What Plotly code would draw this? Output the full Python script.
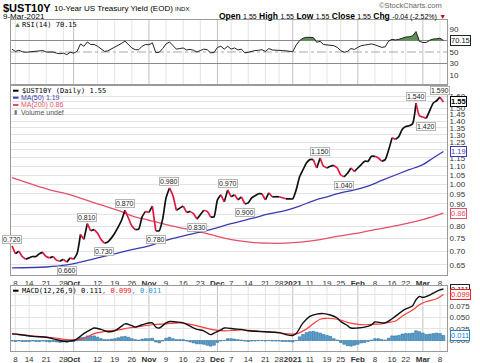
import math
import pandas as pd
import plotly.graph_objects as go

# ---------------- data ----------------
holidays = ["2020-09-07", "2020-11-26", "2020-12-25", "2021-01-01", "2021-01-18", "2021-02-15"]
dates = [d.strftime("%Y-%m-%d") for d in pd.bdate_range("2020-09-04", "2021-03-09")
         if d.strftime("%Y-%m-%d") not in holidays]

price = [0.72, 0.69, 0.70, 0.68, 0.67, 0.675, 0.68, 0.68, 0.69, 0.695,
         0.68, 0.675, 0.68, 0.667, 0.663, 0.67, 0.66, 0.675, 0.67, 0.69,
         0.765, 0.745, 0.81, 0.78, 0.785, 0.77, 0.745, 0.73, 0.735, 0.75,
         0.77, 0.795, 0.825, 0.87, 0.835, 0.80, 0.785, 0.787, 0.84, 0.865,
         0.86, 0.89, 0.78, 0.78, 0.83, 0.93, 0.98, 0.94, 0.87, 0.88,
         0.89, 0.86, 0.865, 0.855, 0.83, 0.85, 0.87, 0.865, 0.84, 0.84,
         0.92, 0.945, 0.91, 0.97, 0.935, 0.945, 0.92, 0.935, 0.90, 0.905,
         0.93, 0.94, 0.95, 0.95, 0.92, 0.955, 0.935, 0.935, 0.935, 0.93,
         0.925, 0.925, 0.925, 0.97, 1.04, 1.08, 1.12, 1.14, 1.14, 1.09,
         1.15, 1.10, 1.09, 1.10, 1.105, 1.09, 1.05, 1.04, 1.06, 1.09,
         1.07, 1.09, 1.11, 1.13, 1.13, 1.16, 1.16, 1.15, 1.13, 1.14,
         1.20, 1.28, 1.27, 1.29, 1.34, 1.36, 1.365, 1.38, 1.54, 1.44,
         1.43, 1.42, 1.48, 1.54, 1.56, 1.59, 1.55]

rsi = [55, 51, 53, 50.5, 49.5, 50, 50.5, 51, 52, 52.5,
       50, 49.5, 50, 48, 47, 48, 45.5, 49.5, 48, 51,
       64, 60, 67.5, 63, 63, 60, 55, 51, 52, 55,
       58, 62, 65, 69, 63, 57, 54, 54, 60, 63,
       62.5, 66, 49, 49.5, 56, 64, 67.5, 62, 55, 56,
       57, 53.5, 54.5, 53, 50, 52.5, 55, 54, 48.5, 49,
       58, 60, 55, 60, 55, 57, 53.5, 55, 48.5, 49.5,
       51.5, 52.5, 53, 54, 51, 56, 53.5, 53.5, 53, 52.5,
       52, 51, 50.5, 62, 70, 74, 75.5, 75.5, 75, 67,
       68.5, 63, 62, 62, 61, 58, 52.5, 49.5, 51, 56,
       54.5, 58, 61, 62, 63, 64, 62.5, 60, 58, 59,
       69, 72, 71, 72, 74, 76, 76.5, 78, 85.5, 68.5,
       66.5, 66.5, 70.5, 72.5, 73, 74, 70.15]

hist = [-0.001, -0.002, -0.001, -0.002, -0.002, -0.002, -0.001, -0.002, -0.002, -0.001,
        -0.002, -0.003, -0.002, -0.003, -0.004, -0.003, -0.004, -0.002, -0.002, 0.001,
        0.007, 0.007, 0.010, 0.010, 0.010, 0.007, 0.004, 0.002, 0.002, 0.003,
        0.004, 0.006, 0.008, 0.009, 0.007, 0.004, 0.002, 0.001, 0.003, 0.004,
        0.004, 0.005, -0.003, -0.005, -0.001, 0.005, 0.007, 0.004, 0.002, 0.002,
        0.002, -0.001, -0.003, -0.005, -0.007, -0.007, -0.008, -0.010, -0.012, -0.010,
        -0.004, -0.001, 0.000, 0.004, 0.004, 0.003, 0.002, 0.001, -0.001, -0.002,
        -0.001, -0.001, 0.000, 0.000, -0.001, 0.000, -0.001, -0.001, -0.001, -0.002,
        -0.002, -0.002, -0.003, 0.000, 0.008, 0.013, 0.017, 0.019, 0.020, 0.018,
        0.016, 0.013, 0.011, 0.009, 0.004, 0.001, -0.004, -0.008, -0.011, -0.012,
        -0.010, -0.008, -0.005, -0.004, -0.002, 0.001, 0.004, 0.004, 0.002, 0.001,
        0.005, 0.010, 0.010, 0.011, 0.014, 0.015, 0.015, 0.016, 0.021, 0.019,
        0.016, 0.013, 0.014, 0.015, 0.016, 0.015, 0.011]

macd_pos = [0, 2, 6, 10, 13, 15, 18, 19, 21, 23, 24, 26, 28, 30, 32, 33, 35, 36, 38, 41,
            42, 43, 45, 46, 48, 50, 52, 54, 56, 58, 59, 61, 62, 65, 67, 69, 71, 74, 76, 78,
            80, 82, 83, 85, 87, 89, 91, 93, 95, 96, 98, 99, 101, 103, 105, 106, 108, 109, 111, 113,
            115, 116, 117, 118, 119, 120, 122, 123, 125, 126]
macd_val = [0.0143, 0.013, 0.009, 0.007, 0.002, -0.0014, 0.0, 0.0036, 0.015, 0.0235,
            0.027, 0.024, 0.019, 0.021, 0.031, 0.036, 0.032, 0.029, 0.034, 0.038,
            0.029, 0.027, 0.038, 0.041, 0.040, 0.038, 0.031, 0.024, 0.021, 0.0128,
            0.016, 0.023, 0.027, 0.025, 0.024, 0.021, 0.020, 0.019, 0.018, 0.017,
            0.0128, 0.011, 0.015, 0.038, 0.052, 0.057, 0.058, 0.055, 0.0485, 0.041,
            0.032, 0.027, 0.027, 0.029, 0.034, 0.040, 0.038, 0.038, 0.047, 0.058,
            0.068, 0.071, 0.075, 0.088, 0.095, 0.093, 0.098, 0.102, 0.109, 0.111]

signal_pos = [0, 6, 12, 16, 19, 21, 24, 28, 31, 34, 37, 41, 45, 49, 52, 55, 59, 62, 65, 67,
              72, 76, 81, 83, 86, 88, 90, 92, 94, 96, 98, 100, 103, 105, 108, 109, 112, 114, 117, 119,
              121, 124, 126]
signal_val = [0.0143, 0.010, 0.006, 0.002, 0.002, 0.0045, 0.015, 0.021, 0.023, 0.027,
              0.030, 0.034, 0.036, 0.038, 0.035, 0.030, 0.023, 0.021, 0.022, 0.023,
              0.020, 0.018, 0.0143, 0.0143, 0.025, 0.036, 0.046, 0.048, 0.047, 0.044,
              0.039, 0.036, 0.034, 0.035, 0.036, 0.038, 0.042, 0.053, 0.066, 0.077,
              0.084, 0.090, 0.099]

ma50_pos = [0, 10, 16, 20, 25, 30, 35, 40, 46, 52, 58, 64, 70, 75, 80, 84, 88, 92, 96, 100,
            104, 108, 112, 116, 120, 123, 126]
ma50_val = [0.64, 0.643, 0.65, 0.66, 0.675, 0.69, 0.705, 0.72, 0.745, 0.765,
            0.785, 0.81, 0.833, 0.853, 0.87, 0.89, 0.915, 0.935, 0.955, 0.97,
            0.99, 1.02, 1.05, 1.08, 1.11, 1.15, 1.19]

ma200_pos = [0, 11, 16, 26, 31, 35, 40, 45, 50, 55, 60, 65, 70, 75, 80, 85, 90, 95, 100, 105,
             110, 115, 120, 126]
ma200_val = [1.035, 0.97, 0.95, 0.895, 0.87, 0.845, 0.825, 0.806, 0.79, 0.775,
             0.757, 0.742, 0.733, 0.73, 0.73, 0.735, 0.744, 0.757, 0.768, 0.782,
             0.795, 0.81, 0.828, 0.857]

swing_pos = [0, 16, 22, 27, 33, 42, 46, 54, 63, 68, 90, 97, 118, 121, 125]
swing_kind = ["H", "L", "H", "L", "H", "L", "H", "L", "H", "L", "H", "L", "H", "L", "H"]

tick_dates = ["2020-09-08", "2020-09-14", "2020-09-21", "2020-09-28", "2020-10-01", "2020-10-12",
              "2020-10-19", "2020-10-26", "2020-11-02", "2020-11-09", "2020-11-16", "2020-11-23",
              "2020-12-01", "2020-12-07", "2020-12-14", "2020-12-21", "2020-12-28", "2021-01-04",
              "2021-01-11", "2021-01-19", "2021-01-25", "2021-02-01", "2021-02-08", "2021-02-16",
              "2021-02-22", "2021-03-01", "2021-03-08"]
tick_text = ["8", "14", "21", "28", "<b>Oct</b>", "12", "19", "26", "<b>Nov</b>", "9", "16", "23",
             "<b>Dec</b>", "7", "14", "21", "28", "<b>2021</b>", "11", "19", "25", "<b>Feb</b>",
             "8", "16", "22", "<b>Mar</b>", "8"]
month_dates = ["2020-10-01", "2020-11-02", "2020-12-01", "2021-01-04", "2021-02-01", "2021-03-01"]

price_ticks = [0.65, 0.70, 0.75, 0.80, 0.85, 0.90, 0.95, 1.00, 1.05, 1.10, 1.15, 1.20,
               1.25, 1.30, 1.35, 1.40, 1.45, 1.50, 1.55, 1.60]
price_hidden = [0.85, 1.20, 1.55]
rsi_ticks = [10, 30, 50, 70, 90]
macd_ticks = [0.0, 0.025, 0.05, 0.075, 0.1]

N = len(dates)
assert N == len(price) == len(rsi) == len(hist)

RED = "#e0173f"
BLUE_MA = "#3b3bb0"
RED_MA = "#e4506a"
FONT = "Liberation Sans"

fig = go.Figure()

# ---------------- RSI panel ----------------
fig.add_trace(go.Scatter(x=dates, y=[70] * N, mode="lines", line=dict(width=0),
                         xaxis="x", yaxis="y", hoverinfo="skip", showlegend=False))
fig.add_trace(go.Scatter(x=dates, y=[max(v, 70) for v in rsi], mode="lines", line=dict(width=0),
                         fill="tonexty", fillcolor="rgba(86,136,76,0.95)",
                         xaxis="x", yaxis="y", hoverinfo="skip", showlegend=False))
fig.add_trace(go.Scatter(x=dates, y=rsi, mode="lines", line=dict(color="#222", width=1),
                         xaxis="x", yaxis="y", showlegend=False))

# ---------------- price panel ----------------
fig.add_trace(go.Scatter(x=[dates[i] for i in ma200_pos], y=ma200_val, mode="lines",
                         line=dict(color=RED_MA, width=1.3, shape="spline"),
                         xaxis="x2", yaxis="y2", showlegend=False))
fig.add_trace(go.Scatter(x=[dates[i] for i in ma50_pos], y=ma50_val, mode="lines",
                         line=dict(color=BLUE_MA, width=1.3, shape="spline"),
                         xaxis="x2", yaxis="y2", showlegend=False))


def runs(values, up):
    xs, ys = [], []
    i = 1
    n = len(values)
    while i < n:
        if (values[i] >= values[i - 1]) == up:
            start = i - 1
            while i < n and (values[i] >= values[i - 1]) == up:
                i += 1
            xs += dates[start:i] + [None]
            ys += values[start:i] + [None]
        else:
            i += 1
    return xs, ys


for up, col in [(True, "#111"), (False, RED)]:
    xs, ys = runs(price, up)
    fig.add_trace(go.Scatter(x=xs, y=ys, mode="lines",
                             line=dict(color=col, width=1.7, shape="spline", smoothing=0.6),
                             connectgaps=False, xaxis="x2", yaxis="y2", showlegend=False))

# ---------------- MACD panel ----------------
fig.add_trace(go.Bar(x=dates, y=hist, marker=dict(color="#58a0cf", line=dict(color="#2c6c9c", width=0.6)),
                     width=0.78, xaxis="x3", yaxis="y3", showlegend=False))
fig.add_trace(go.Scatter(x=[dates[i] for i in signal_pos], y=signal_val, mode="lines",
                         line=dict(color="#ff3b3b", width=1.2, shape="spline"),
                         xaxis="x3", yaxis="y3", showlegend=False))
fig.add_trace(go.Scatter(x=[dates[i] for i in macd_pos], y=macd_val, mode="lines",
                         line=dict(color="#111", width=1.4, shape="spline"),
                         xaxis="x3", yaxis="y3", showlegend=False))

# ---------------- layout ----------------
TOP, BOT = 20, 351
H = BOT - TOP
L, R = 11, 447
W = R - L
XR = [-0.29, 127.05]


def py(Y):
    return (BOT - Y) / H


def px(X):
    return (X - L) / W


tickfont = dict(family=FONT, size=8, color="#333")
common_x = dict(type="category", categoryorder="array", categoryarray=dates,
                range=XR, tickmode="array", tickvals=tick_dates, ticktext=tick_text,
                tickangle=0, showgrid=False, showline=True, linecolor="#9a9a9a",
                linewidth=1, mirror=True, zeroline=False, ticks="", ticklen=0,
                tickfont=tickfont, fixedrange=True)
common_y = dict(side="right", showline=True, linecolor="#9a9a9a", linewidth=1, mirror=True,
                zeroline=False, ticks="", ticklen=0, tickfont=tickfont, showgrid=True,
                gridcolor="#e4e4e4", fixedrange=True)

fig.update_layout(
    width=480, height=363,
    margin=dict(l=L, r=480 - R, t=TOP, b=363 - BOT, autoexpand=False),
    paper_bgcolor="white", plot_bgcolor="white",
    showlegend=False, bargap=0.2, hovermode=False,
    xaxis=dict(common_x, anchor="y", showticklabels=False),
    xaxis2=dict(common_x, anchor="y2", matches="x", showticklabels=True),
    xaxis3=dict(common_x, anchor="y3", matches="x", showticklabels=True),
    yaxis=dict(common_y, domain=[py(85), 1.0], range=[-7.4, 105.65], anchor="x",
               tickvals=rsi_ticks, ticktext=["" if v == 70 else str(v) for v in rsi_ticks],
               showgrid=False),
    yaxis2=dict(common_y, domain=[py(275), py(85)], type="log", range=[-0.2103, 0.2296], anchor="x2",
                tickvals=price_ticks,
                ticktext=["" if v in price_hidden else f"{v:.2f}" for v in price_ticks]),
    yaxis3=dict(common_y, domain=[0.0, py(286)], range=[-0.0225, 0.1175], anchor="x3",
                tickvals=macd_ticks,
                ticktext=["" if v == 0.1 else f"{v:.3f}" for v in macd_ticks]),
)

shapes = []
# vertical gridlines (weekly light, monthly darker), drawn below the traces
panels = [("x", "y", -7.4, 105.65),
          ("x2", "y2", -0.2103, 0.2296),
          ("x3", "y3", -0.0225, 0.1175)]
for d in tick_dates:
    col = "#c2c2c2" if d in month_dates else "#e4e4e4"
    for xr, yr, y0, y1 in panels:
        shapes.append(dict(type="line", xref=xr, yref=yr, x0=d, x1=d, y0=y0, y1=y1,
                           line=dict(color=col, width=1), layer="below"))
# RSI reference lines
for lvl, col, dash in [(70, "#8a8a8a", "solid"), (30, "#8a8a8a", "solid"), (50, "#a8a8a8", "dashdot")]:
    shapes.append(dict(type="line", xref="x", yref="y", x0=XR[0], x1=XR[1], y0=lvl, y1=lvl,
                       line=dict(color=col, width=1, dash=dash), layer="below"))
# legend swatches
for Y, col in [(90.7, "#000"), (97.7, BLUE_MA), (105, RED_MA), (290.7, "#000")]:
    shapes.append(dict(type="line", xref="paper", yref="paper", x0=px(13), x1=px(18.5),
                       y0=py(Y), y1=py(Y), line=dict(color=col, width=2)))
fig.update_layout(shapes=shapes)

ann = []


def text(X, Y, t, size=8, color="#000", family=FONT, anchor="left"):
    ann.append(dict(x=px(X), y=py(Y), xref="paper", yref="paper", xanchor=anchor, yanchor="middle",
                    text=t, showarrow=False, font=dict(family=family, size=size, color=color)))


# header
text(0.5, 7.5, "<b>$UST10Y</b>", size=11)
text(52, 8.5, "10-Year US Treasury Yield (EOD) <span style='font-size:6px'>INDX</span>", size=8)
text(0.5, 16, "9-Mar-2021", size=8)
text(444, 5.5, "©StockCharts.com", size=7.5, color="#666", anchor="right")
sv = "style='font-size:7px'"
text(448, 16,
     f"<b>Open</b> <span {sv}>1.55</span> <b>High</b> <span {sv}>1.55</span> "
     f"<b>Low</b> <span {sv}>1.55</span> <b>Close</b> <span {sv}>1.55</span> "
     f"<b>Chg</b> <span {sv}>-0.04 (-2.52%)</span> <span style='color:#cc0000;font-size:7px'>▼</span>",
     size=8.5, anchor="right")

# panel legends
mono = "DejaVu Sans Mono"
text(11.5, 24.5, "▲", size=7, color="#4d7f45")
text(20, 24.5, f"RSI(14) {rsi[-1]:.2f}", size=7, family=mono)
text(20, 90.7, f"$UST10Y (Daily) {price[-1]:.2f}", size=7, family=mono)
text(19, 97.7, f"MA(50) {ma50_val[-1]:.2f}", size=7, color=BLUE_MA)
text(19, 105, f"MA(200) {ma200_val[-1]:.2f}", size=7, color=RED_MA)
text(12, 112.3, "▮", size=6, color="#777")
text(19, 112.3, "Volume undef", size=7, color="#555")
text(20, 290.7,
     f"MACD(12,26,9) {macd_val[-1]:.3f}<span style='color:#ee2222'>, {signal_val[-1]:.3f}</span>"
     f"<span style='color:#2a94d0'>, {hist[-1]:.3f}</span>", size=7, family=mono)

# swing-point labels
for p, k in zip(swing_pos, swing_kind):
    ann.append(dict(x=dates[p], y=math.log10(price[p]), xref="x2", yref="y2",
                    text=f"{price[p]:.3f}", showarrow=False,
                    yanchor="bottom" if k == "H" else "top", yshift=2 if k == "H" else -4,
                    font=dict(family=FONT, size=7, color="#222"),
                    bgcolor="white", bordercolor="#b5b5b5", borderwidth=1, borderpad=0))


# right-side value boxes
def box(t, y, yref, col, bold=False):
    ann.append(dict(x=1, xref="paper", xanchor="left", xshift=3, y=y, yref=yref, yanchor="middle",
                    text=f"<b>{t}</b>" if bold else t, showarrow=False,
                    font=dict(family=FONT, size=7.5, color=col),
                    bgcolor="white", bordercolor=col, borderwidth=1, borderpad=0))


box(f"{rsi[-1]:.2f}", rsi[-1], "y", "#222")
box(f"{price[-1]:.2f}", math.log10(price[-1]), "y2", "#000", bold=True)
box(f"{ma50_val[-1]:.2f}", math.log10(ma50_val[-1]), "y2", BLUE_MA)
box(f"{ma200_val[-1]:.2f}", math.log10(ma200_val[-1]), "y2", RED_MA)
box(f"{macd_val[-1]:.3f}", macd_val[-1], "y3", "#222")
box(f"{signal_val[-1]:.3f}", signal_val[-1], "y3", "#ee2222")
box(f"{hist[-1]:.3f}", hist[-1], "y3", "#2a7fc0")

fig.update_layout(annotations=ann)

fig.write_html("out.html", config={"displayModeBar": False, "staticPlot": True},
               post_script="document.body.style.margin='0px';")
